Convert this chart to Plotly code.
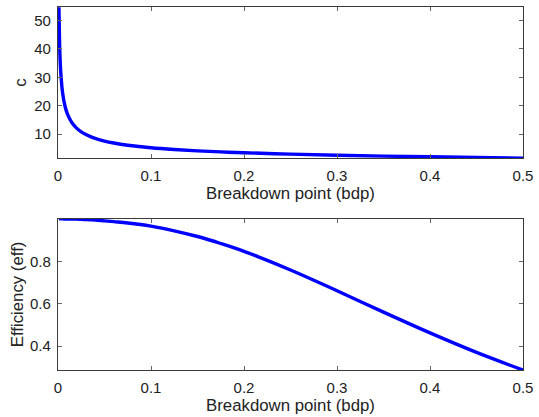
import plotly.graph_objects as go
from plotly.subplots import make_subplots

# Tukey biweight: tuning constant c and efficiency against breakdown point
bdp = [0.001, 0.002, 0.003, 0.005, 0.0075, 0.01, 0.0125, 0.015, 0.02, 0.025,
       0.03, 0.035, 0.04, 0.05, 0.06, 0.075, 0.1, 0.125, 0.15, 0.175, 0.2,
       0.25, 0.3, 0.35, 0.4, 0.45, 0.5]
c_vals = [54.7, 38.7, 31.6, 24.4, 19.9, 17.2, 15.4, 14.0, 12.1, 10.8,
          9.85, 9.1, 8.49, 7.55, 6.86, 6.09, 5.18, 4.56, 4.10, 3.73, 3.42,
          2.94, 2.56, 2.25, 1.99, 1.76, 1.547]
eff_vals = [1.0, 1.0, 1.0, 1.0, 0.99995, 0.9999, 0.9997, 0.9995, 0.999, 0.998,
            0.997, 0.996, 0.995, 0.991, 0.987, 0.981, 0.966, 0.944, 0.917,
            0.884, 0.847, 0.759, 0.661, 0.560, 0.462, 0.370, 0.287]

x_ticks = [0, 0.1, 0.2, 0.3, 0.4, 0.5]
x_ticktext = ["0", "0.1", "0.2", "0.3", "0.4", "0.5"]
c_ticks = [10, 20, 30, 40, 50]
eff_ticks = [0.4, 0.6, 0.8]
eff_ticktext = ["0.4", "0.6", "0.8"]

FONT = "Liberation Sans, Arial, Helvetica, sans-serif"
AX = "#3a3a3a"
TXT = "#222222"

fig = make_subplots(rows=2, cols=1, vertical_spacing=0.1676)

line = dict(color="#0000ff", width=3.4)
fig.add_trace(go.Scatter(x=bdp, y=c_vals, mode="lines", line=line,
                         line_shape="spline", showlegend=False), row=1, col=1)
fig.add_trace(go.Scatter(x=bdp, y=eff_vals, mode="lines", line=line,
                         line_shape="spline", showlegend=False), row=2, col=1)

axis_common = dict(
    showline=True, mirror="ticks", linecolor=AX, linewidth=1.3,
    ticks="inside", ticklen=4, tickcolor="#666666", tickwidth=1,
    showgrid=False, zeroline=False,
    tickfont=dict(family=FONT, size=15, color=TXT),
)

for r in (1, 2):
    fig.update_xaxes(range=[0, 0.5], tickvals=x_ticks, ticktext=x_ticktext,
                     title=dict(text="Breakdown point (bdp)", standoff=3,
                                font=dict(family=FONT, size=16.8, color=TXT)),
                     ticklabelstandoff=4,
                     row=r, col=1, **axis_common)

fig.update_yaxes(range=[1.547, 54.8], tickvals=c_ticks,
                 title=dict(text="c", standoff=3,
                            font=dict(family=FONT, size=16.8, color=TXT)),
                 ticklabelstandoff=3,
                 row=1, col=1, **axis_common)
fig.update_yaxes(range=[0.287, 1.0], tickvals=eff_ticks, ticktext=eff_ticktext,
                 title=dict(text="Efficiency (eff)", standoff=2,
                            font=dict(family=FONT, size=16.8, color=TXT)),
                 ticklabelstandoff=3,
                 row=2, col=1, **axis_common)

fig.update_layout(
    width=539, height=417,
    margin=dict(l=58, r=11, t=6, b=41),
    paper_bgcolor="white", plot_bgcolor="white",
    font=dict(family=FONT),
)

fig.write_html("out.html")
